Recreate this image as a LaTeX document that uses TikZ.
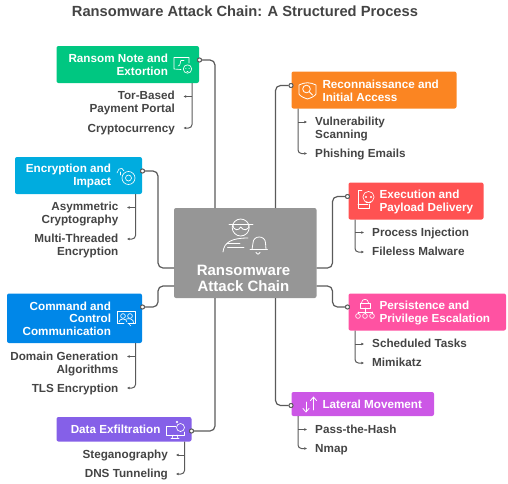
\documentclass[tikz,border=0pt]{standalone}
\usepackage{fontspec}
\setmainfont{Liberation Sans}
\usetikzlibrary{arrows.meta,positioning}
\definecolor{cgreen}{HTML}{00C781}
\definecolor{cblue}{HTML}{00ACDF}
\definecolor{cazure}{HTML}{0087E8}
\definecolor{cpurple}{HTML}{8560E8}
\definecolor{corange}{HTML}{FB8522}
\definecolor{cred}{HTML}{FF5252}
\definecolor{cpink}{HTML}{FF52A2}
\definecolor{cviolet}{HTML}{CC57E6}
\definecolor{cgray}{HTML}{969696}
\definecolor{ctext}{HTML}{444444}
\definecolor{cline}{HTML}{5A5A5A}
\tikzset{
  x=1pt,y=-1pt,
  stagebox/.style={rounded corners=2pt,anchor=north west,inner sep=0pt,outer sep=0pt},
  stagetext/.style={text=white,font=\fontsize{11.7}{12.8}\selectfont\bfseries,inner sep=0pt,outer sep=0pt,yshift=-.7pt},
  itemL/.style={text=ctext,font=\fontsize{11.7}{12.8}\selectfont\bfseries,inner sep=0pt,anchor=east,align=right,yshift=-.8pt},
  itemR/.style={text=ctext,font=\fontsize{11.7}{12.8}\selectfont\bfseries,inner sep=0pt,anchor=west,align=left,yshift=-.8pt},
  link/.style={draw=cline,line width=1.2pt,rounded corners=5pt},
  sublink/.style={draw=cline,line width=1pt,rounded corners=3.5pt,-{Latex[length=2.6pt,width=2.8pt]}},
  plain/.style={draw=cline,line width=1pt,-{Latex[length=2.6pt,width=2.8pt]}},
  port/.style={circle,draw=cline,fill=white,line width=.9pt,minimum size=4pt,inner sep=0pt},
  icon/.style={draw=white,line width=.8pt,line cap=round,line join=round},
}
\newcommand{\ph}{\vphantom{Ag}}
\begin{document}
\begin{tikzpicture}
\useasboundingbox (0,0) rectangle (508,483);
\node[text=ctext,font=\fontsize{14.7}{17}\selectfont\bfseries,inner sep=0pt] (title) at (245,11) {Ransomware Attack Chain: A Structured Process};

% centre
\node[stagebox,fill=cgray,minimum width=142.5pt,minimum height=90pt] (c) at (174,208) {};
\node[text=white,font=\fontsize{15}{16}\selectfont\bfseries,inner sep=0pt,align=center] (ctitle) at (243.5,278.5) {Ransomware\\Attack Chain};

% stage boxes
\node[stagebox,fill=cgreen,minimum width=142.5pt,minimum height=37pt] (ransom) at (56.5,46) {};
\node[stagebox,fill=cblue,minimum width=127pt,minimum height=37pt] (encr) at (15,157) {};
\node[stagebox,fill=cazure,minimum width=135pt,minimum height=49.5pt] (cc) at (7,293.5) {};
\node[stagebox,fill=cpurple,minimum width=135pt,minimum height=24.5pt] (exfil) at (56.5,417) {};
\node[stagebox,fill=corange,minimum width=165pt,minimum height=37pt] (recon) at (291.5,71.5) {};
\node[stagebox,fill=cred,minimum width=135pt,minimum height=37pt] (exec) at (348.5,182.5) {};
\node[stagebox,fill=cpink,minimum width=157.5pt,minimum height=37pt] (pers) at (348.5,293.5) {};
\node[stagebox,fill=cviolet,minimum width=142.5pt,minimum height=24pt] (lat) at (291.5,392) {};

% stage texts
\node[stagetext,align=right,anchor=east] (ransomT) at (168,64.5) {Ransom Note and\\Extortion};
\node[stagetext,align=right,anchor=east] (encrT) at (111,175.5) {Encryption and\\Impact};
\node[stagetext,align=right,anchor=east] (ccT) at (111,318) {Command and\\Control\\Communication};
\node[stagetext,align=right,anchor=east] (exfilT) at (160.5,429.5) {\ph Data Exfiltration};
\node[stagetext,align=left,anchor=west] (reconT) at (322.5,90) {Reconnaissance and\\Initial Access};
\node[stagetext,align=left,anchor=west] (execT) at (379.5,201) {Execution and\\Payload Delivery};
\node[stagetext,align=left,anchor=west] (persT) at (379.5,312) {Persistence and\\Privilege Escalation};
\node[stagetext,align=left,anchor=west] (latT) at (322.5,404.5) {\ph Lateral Movement};

% ports
\node[port] (pransom) at (199.5,60) {};
\node[port] (pencr) at (142.5,171) {};
\node[port] (pcc) at (142.5,307) {};
\node[port] (pexfil) at (191.5,431) {};
\node[port] (precon) at (291,85.5) {};
\node[port] (pexec) at (347.5,196.5) {};
\node[port] (ppers) at (347.5,307) {};
\node[port] (plat) at (291,405.5) {};

% junctions on the centre box
\coordinate (cTL) at (215,208);
\coordinate (cTR) at (275.5,208);
\coordinate (cBL) at (215,298);
\coordinate (cBR) at (275.5,298);
\coordinate (cL1) at (174,268);
\coordinate (cL2) at (174,286);
\coordinate (cR1) at (316.5,268);
\coordinate (cR2) at (316.5,286);

% main connectors
\draw[link] (cTL) |- (pransom);
\draw[link] (cL1) -- (158,268) -- (158,171) -- (pencr);
\draw[link] (cL2) -- (158,286) -- (158,307) -- (pcc);
\draw[link] (cBL) |- (pexfil);
\draw[link] (cTR) |- (precon);
\draw[link] (cR1) -- (332.5,268) -- (332.5,196.5) -- (pexec);
\draw[link] (cR2) -- (332.5,286) -- (332.5,307) -- (ppers);
\draw[link] (cBR) |- (plat);
\node[port] at (pransom) {};
\node[port] at (pencr) {};
\node[port] at (pcc) {};
\node[port] at (pexfil) {};
\node[port] at (precon) {};
\node[port] at (pexec) {};
\node[port] at (ppers) {};
\node[port] at (plat) {};

% item labels
\node[itemL] (i1a) at (175,102.5) {Tor-Based\\Payment Portal};
\node[itemL] (i1b) at (175,128.5) {\ph Cryptocurrency};
\node[itemL] (i2a) at (118.5,213.5) {Asymmetric\\Cryptography};
\node[itemL] (i2b) at (118.5,245.5) {Multi-Threaded\\Encryption};
\node[itemL] (i3a) at (118.5,363) {Domain Generation\\Algorithms};
\node[itemL] (i3b) at (118.5,388.5) {\ph TLS Encryption};
\node[itemL] (i4a) at (168,455) {\ph Steganography};
\node[itemL] (i4b) at (168,474) {\ph DNS Tunneling};
\node[itemR] (i5a) at (315,128.5) {Vulnerability\\Scanning};
\node[itemR] (i5b) at (315,153.5) {\ph Phishing Emails};
\node[itemR] (i6a) at (372,232.5) {\ph Process Injection};
\node[itemR] (i6b) at (372,252) {\ph Fileless Malware};
\node[itemR] (i7a) at (372,344) {\ph Scheduled Tasks};
\node[itemR] (i7b) at (372,363) {\ph Mimikatz};
\node[itemR] (i8a) at (315,429.5) {\ph Pass-the-Hash};
\node[itemR] (i8b) at (315,448.5) {\ph Nmap};

% item connectors
\coordinate (e1a) at (183.5,96.5);\coordinate (e1b) at (183.5,128);
\draw[plain] (192,96.5) -- (e1a);
\draw[sublink] (192,83) -- (192,128) -- (e1b);
\coordinate (e2a) at (127,207.5);\coordinate (e2b) at (127,239);
\draw[plain] (135.5,207.5) -- (e2a);
\draw[sublink] (135.5,194) -- (135.5,239) -- (e2b);
\coordinate (e3a) at (127,356.5);\coordinate (e3b) at (127,388);
\draw[plain] (135.5,356.5) -- (e3a);
\draw[sublink] (135.5,343) -- (135.5,388) -- (e3b);
\coordinate (e4a) at (176,455);\coordinate (e4b) at (176,474);
\draw[plain] (184.5,455) -- (e4a);
\draw[sublink] (184.5,441.5) -- (184.5,474) -- (e4b);
\coordinate (e5a) at (307,122);\coordinate (e5b) at (307,153.5);
\draw[plain] (298,122) -- (e5a);
\draw[sublink] (298,108.5) -- (298,153.5) -- (e5b);
\coordinate (e6a) at (364,232.5);\coordinate (e6b) at (364,252);
\draw[plain] (355,232.5) -- (e6a);
\draw[sublink] (355,219.5) -- (355,252) -- (e6b);
\coordinate (e7a) at (364,344);\coordinate (e7b) at (364,363);
\draw[plain] (355,344) -- (e7a);
\draw[sublink] (355,330.5) -- (355,363) -- (e7b);
\coordinate (e8a) at (307,429.5);\coordinate (e8b) at (307,448.5);
\draw[plain] (298,429.5) -- (e8a);
\draw[sublink] (298,416) -- (298,448.5) -- (e8b);

% centre icon
\begin{scope}[icon]
\draw (240.7,227.5) circle[radius=8.5];
\draw (229,224.5) -- (253,224.5);
\draw (233,224.5) .. controls (233,231) and (239,231) .. (240.7,227) .. controls (243,231) and (249,231) .. (249,224.5);
\draw (223,252) .. controls (224,242) and (232,238) .. (248,238);
\draw (227.5,247.5) -- (244,247.5);
\draw (227,243) -- (240,243);
\draw (250,249.5) -- (267.5,249.5);
\draw (252,249.5) -- (253,243) .. controls (253,235) and (265.5,235) .. (265.5,243) -- (266,249.5);
\draw (256,252.5) .. controls (256.5,255) and (259.5,255) .. (260,252.5);
\end{scope}
% ransom note icon
\begin{scope}[icon,line width=.65pt]
\draw (181,69.5) -- (174,69) -- (174,57.5) -- (189,57.5) -- (189,63);
\draw (178,66) .. controls (181,66) and (180,61) .. (181,60.5) -- (184,60.5);
\draw (187.5,69) circle[radius=4.2];
\draw (185.8,68.5) -- (186,68.5) (189,68.5) -- (189.2,68.5) (187,71.5) -- (188,71.5);
\end{scope}
% encryption icon
\begin{scope}[icon,line width=.65pt]
\draw (128.5,178) circle[radius=6.5];
\draw (128.5,178) circle[radius=3];
\draw (117,173) -- (119,169) -- (122,168.5) -- (124,171);
\draw (120,172) -- (120,175);
\end{scope}
% C2 icon
\begin{scope}[icon,line width=.65pt]
\draw (128,323) -- (135,323) -- (135,311.5) -- (117,311.5) -- (117,323) -- (124,323);
\draw (123,316) circle[radius=2.4];
\draw (130,316) circle[radius=2.4];
\draw (119,322) .. controls (119,318) and (127,318) .. (127,322);
\draw (126.5,319) .. controls (129,318) and (134,319) .. (133.5,323);
\draw (128,323) -- (131,326);
\end{scope}
% exfil icon
\begin{scope}[icon,line width=.65pt]
\draw (176,426.5) -- (166,426.5) -- (166,435) -- (184,435) -- (184,432);
\draw (171,438.5) -- (179,438.5);
\draw (173,435) -- (172,438.5) (177,435) -- (178,438.5);
\draw (180.5,427.5) circle[radius=4];
\draw (176,421) -- (178,423) (176,423) -- (178,421);
\end{scope}
% recon icon
\begin{scope}[icon]
\draw (299,85) -- (299,94) .. controls (300,96) and (304,98) .. (307.5,99) .. controls (311,98) and (315,96) .. (316,94) -- (316,85) .. controls (310,82) and (305,82) .. (299,85);
\draw (306.5,89) circle[radius=3.8];
\draw (309.3,91.8) -- (312.5,95);
\end{scope}
% exec icon
\begin{scope}[icon,line width=.65pt]
\draw (362,190) -- (358,190) -- (358,208.5) -- (369,208.5) -- (369,204);
\draw (358,204) -- (368,204);
\draw (368.5,197) circle[radius=5.6];
\draw (366,197) circle[radius=.7] (371,197) circle[radius=.7];
\draw (366,202) -- (371,202);
\end{scope}
% persistence icon
\begin{scope}[icon,line width=.65pt]
\draw (360,308) rectangle (370,303);
\draw (361.5,303) .. controls (361.5,298) and (368.5,298) .. (368.5,303);
\draw (365,308) -- (365,312);
\draw (358,312) -- (372,312);
\draw (358,312) -- (358,313.6) (365,312) -- (365,313.6) (372,312) -- (372,313.6);
\draw (358,316) circle[radius=2.4] (365,316) circle[radius=2.4] (372,316) circle[radius=2.4];
\end{scope}
% lateral icon
\begin{scope}[icon]
\draw (313.5,397.5) -- (313.5,410);
\draw (310.5,400.5) -- (313.5,397) -- (316.5,400.5);
\draw (306,402) -- (306,411.5);
\draw (303,408.5) -- (306,412) -- (309,408.5);
\end{scope}
\end{tikzpicture}
\end{document}
